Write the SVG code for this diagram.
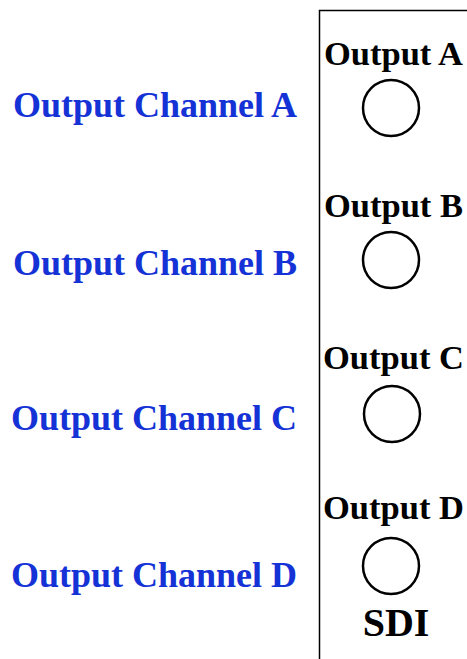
<svg xmlns="http://www.w3.org/2000/svg" width="467" height="659" viewBox="0 0 467 659">
<style>
.ch{font-family:"Liberation Serif","Times New Roman",serif;font-weight:bold;font-size:36px;fill:#1432d6;text-anchor:end}
.out{font-family:"Liberation Serif","Times New Roman",serif;font-weight:bold;font-size:34.5px;fill:#000;text-anchor:middle}
.sdi{font-family:"Liberation Serif","Times New Roman",serif;font-weight:bold;font-size:40px;fill:#000;text-anchor:middle}
.port{fill:#fff;stroke:#000;stroke-width:2.5}
</style>
<rect width="467" height="659" fill="#fff"/>
<g id="panel"><path d="M319.5,670 V10.5 H480" fill="none" stroke="#000" stroke-width="1.5"/></g>
<g id="labels">
<text class="ch" x="297" y="117">Output Channel A</text>
<text class="ch" x="297" y="275">Output Channel B</text>
<text class="ch" x="297" y="430">Output Channel C</text>
<text class="ch" x="297" y="587">Output Channel D</text>
</g>
<g id="outA"><text class="out" x="393.5" y="65">Output A</text><circle class="port" cx="391" cy="108" r="28"/></g>
<g id="outB"><text class="out" x="393.5" y="217">Output B</text><circle class="port" cx="391" cy="260" r="28"/></g>
<g id="outC"><text class="out" x="393.5" y="369">Output C</text><circle class="port" cx="392" cy="414" r="28"/></g>
<g id="outD"><text class="out" x="393.5" y="519">Output D</text><circle class="port" cx="391" cy="566" r="28"/></g>
<text class="sdi" x="396" y="636">SDI</text>
<g id="connectors"/>
</svg>
